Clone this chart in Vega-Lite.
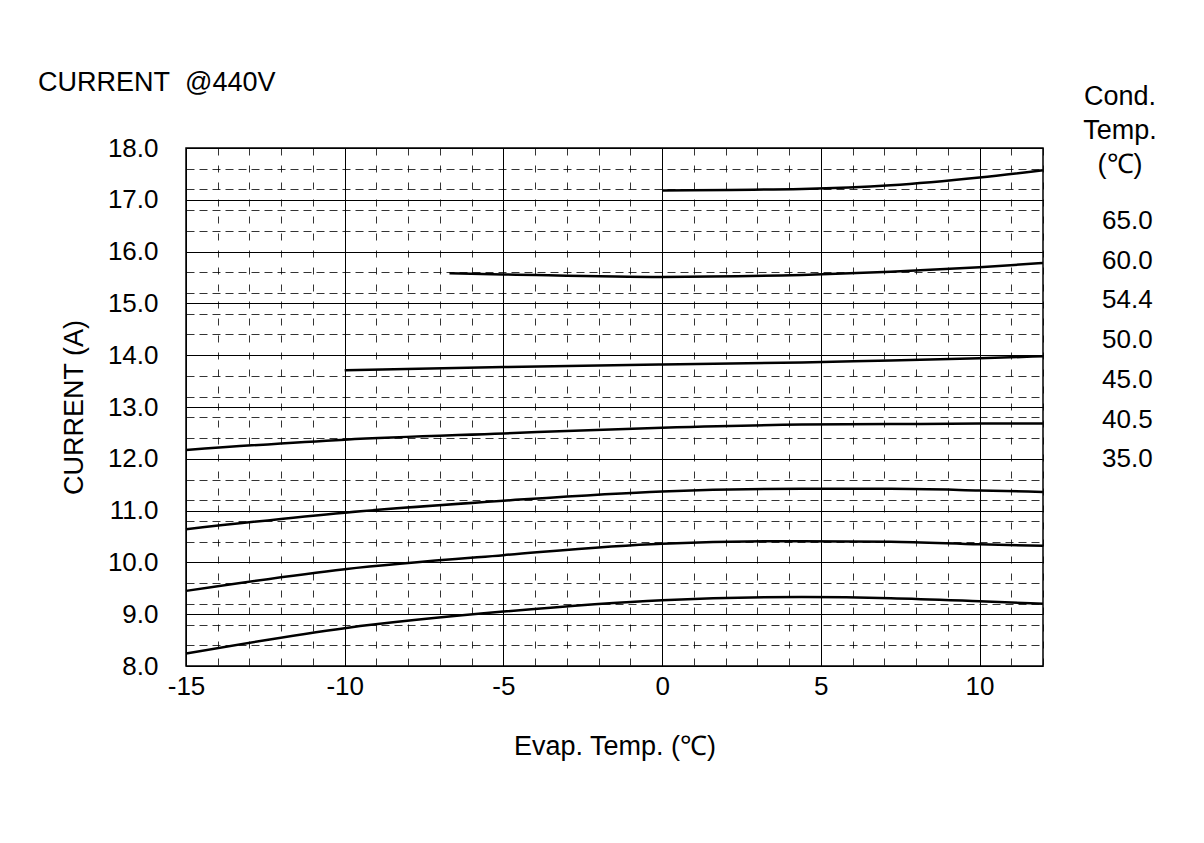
{
  "$schema": "https://vega.github.io/schema/vega-lite/v6.json",
  "width": 857,
  "height": 518,
  "autosize": {"type": "none"},
  "padding": {"left": 186, "top": 148, "right": 161, "bottom": 177},
  "background": "#ffffff",
  "config": {
    "font": "Liberation Sans",
    "view": {"stroke": "#000000", "strokeWidth": 1.5}
  },
  "title": {
    "text": "CURRENT\u00a0\u00a0@440V",
    "anchor": "start",
    "frame": "group",
    "dx": -148,
    "offset": -13,
    "fontSize": 27,
    "fontWeight": "normal",
    "font": "Liberation Sans",
    "color": "#000000"
  },
  "data": {
    "values": [
      {"evap": 0, "current": 17.18, "cond": "65.0"},
      {"evap": 4.4, "current": 17.21, "cond": "65.0"},
      {"evap": 7.2, "current": 17.28, "cond": "65.0"},
      {"evap": 10, "current": 17.43, "cond": "65.0"},
      {"evap": 12, "current": 17.57, "cond": "65.0"},

      {"evap": -6.7, "current": 15.58, "cond": "60.0"},
      {"evap": -5, "current": 15.56, "cond": "60.0"},
      {"evap": 0, "current": 15.51, "cond": "60.0"},
      {"evap": 4.4, "current": 15.55, "cond": "60.0"},
      {"evap": 7.2, "current": 15.61, "cond": "60.0"},
      {"evap": 10, "current": 15.70, "cond": "60.0"},
      {"evap": 12, "current": 15.78, "cond": "60.0"},

      {"evap": -10, "current": 13.71, "cond": "54.4"},
      {"evap": -5, "current": 13.77, "cond": "54.4"},
      {"evap": 0, "current": 13.82, "cond": "54.4"},
      {"evap": 4.4, "current": 13.86, "cond": "54.4"},
      {"evap": 7.2, "current": 13.90, "cond": "54.4"},
      {"evap": 10, "current": 13.94, "cond": "54.4"},
      {"evap": 12, "current": 13.98, "cond": "54.4"},

      {"evap": -15, "current": 12.17, "cond": "50.0"},
      {"evap": -10, "current": 12.37, "cond": "50.0"},
      {"evap": -5, "current": 12.49, "cond": "50.0"},
      {"evap": 0, "current": 12.60, "cond": "50.0"},
      {"evap": 4.4, "current": 12.66, "cond": "50.0"},
      {"evap": 7.2, "current": 12.67, "cond": "50.0"},
      {"evap": 10, "current": 12.68, "cond": "50.0"},
      {"evap": 12, "current": 12.68, "cond": "50.0"},

      {"evap": -15, "current": 10.64, "cond": "45.0"},
      {"evap": -10, "current": 10.96, "cond": "45.0"},
      {"evap": -5, "current": 11.19, "cond": "45.0"},
      {"evap": 0, "current": 11.37, "cond": "45.0"},
      {"evap": 4.4, "current": 11.42, "cond": "45.0"},
      {"evap": 7.2, "current": 11.42, "cond": "45.0"},
      {"evap": 10, "current": 11.39, "cond": "45.0"},
      {"evap": 12, "current": 11.36, "cond": "45.0"},

      {"evap": -15, "current": 9.45, "cond": "40.5"},
      {"evap": -10, "current": 9.87, "cond": "40.5"},
      {"evap": -5, "current": 10.14, "cond": "40.5"},
      {"evap": 0, "current": 10.36, "cond": "40.5"},
      {"evap": 4.4, "current": 10.41, "cond": "40.5"},
      {"evap": 7.2, "current": 10.40, "cond": "40.5"},
      {"evap": 10, "current": 10.35, "cond": "40.5"},
      {"evap": 12, "current": 10.32, "cond": "40.5"},

      {"evap": -15, "current": 8.24, "cond": "35.0"},
      {"evap": -10, "current": 8.73, "cond": "35.0"},
      {"evap": -5, "current": 9.05, "cond": "35.0"},
      {"evap": 0, "current": 9.27, "cond": "35.0"},
      {"evap": 4.4, "current": 9.33, "cond": "35.0"},
      {"evap": 7.2, "current": 9.31, "cond": "35.0"},
      {"evap": 10, "current": 9.25, "cond": "35.0"},
      {"evap": 12, "current": 9.20, "cond": "35.0"}
    ]
  },
  "mark": {"type": "line", "interpolate": "monotone", "strokeWidth": 2.5},
  "encoding": {
    "x": {
      "field": "evap",
      "type": "quantitative",
      "scale": {"domain": [-15, 12], "nice": false, "zero": false},
      "axis": {
        "title": "Evap. Temp. (\u2103)",
        "values": [-15, -14, -13, -12, -11, -10, -9, -8, -7, -6, -5, -4, -3, -2, -1, 0, 1, 2, 3, 4, 5, 6, 7, 8, 9, 10, 11, 12],
        "labelExpr": "datum.value % 5 === 0 ? '' + datum.value : ''",
        "labelFontSize": 26,
        "labelColor": "#000000",
        "labelPadding": 7,
        "labelFlush": false,
        "titleFontSize": 27,
        "titleFontWeight": "normal",
        "titleColor": "#000000",
        "titlePadding": 34,
        "ticks": false,
        "domain": false,
        "grid": true,
        "gridColor": "#000000",
        "gridOpacity": 1,
        "gridWidth": {"condition": {"test": "datum.value % 5 === 0", "value": 1}, "value": 0.8},
        "gridDash": {"condition": {"test": "datum.value % 5 === 0", "value": []}, "value": [7, 10]}
      }
    },
    "y": {
      "field": "current",
      "type": "quantitative",
      "scale": {"domain": [8, 18], "nice": false, "zero": false},
      "axis": {
        "title": "CURRENT (A)",
        "values": [8, 8.4, 8.8, 9, 9.2, 9.6, 10, 10.4, 10.8, 11, 11.2, 11.6, 12, 12.4, 12.8, 13, 13.2, 13.6, 14, 14.4, 14.8, 15, 15.2, 15.6, 16, 16.4, 16.8, 17, 17.2, 17.6, 18],
        "labelExpr": "datum.value % 1 === 0 ? format(datum.value, '.1f') : ''",
        "labelFontSize": 26,
        "labelColor": "#000000",
        "labelPadding": 28,
        "labelFlush": false,
        "titleFontSize": 27,
        "titleFontWeight": "normal",
        "titleColor": "#000000",
        "titlePadding": 19,
        "ticks": false,
        "domain": false,
        "grid": true,
        "gridColor": "#000000",
        "gridOpacity": 1,
        "gridWidth": {"condition": {"test": "datum.value % 1 === 0", "value": 1}, "value": 0.8},
        "gridDash": {"condition": {"test": "datum.value % 1 === 0", "value": []}, "value": [8, 5]}
      }
    },
    "stroke": {
      "field": "cond",
      "type": "nominal",
      "scale": {
        "domain": ["65.0", "60.0", "54.4", "50.0", "45.0", "40.5", "35.0"],
        "range": ["#000000", "#000000", "#000000", "#000000", "#000000", "#000000", "#000000"]
      },
      "legend": {
        "title": ["Cond.", "Temp.", "(\u2103)"],
        "orient": "none",
        "legendX": 897,
        "legendY": -64,
        "padding": 0,
        "titleFontSize": 27,
        "titleFontWeight": "normal",
        "titleColor": "#000000",
        "titleLineHeight": 34,
        "titleAnchor": "middle",
        "titleAlign": "center",
        "titlePadding": 29,
        "labelFontSize": 26,
        "labelColor": "#000000",
        "labelOffset": -11,
        "symbolSize": 0,
        "symbolStrokeWidth": 0,
        "symbolOpacity": 0,
        "rowPadding": 13.7
      }
    }
  }
}
